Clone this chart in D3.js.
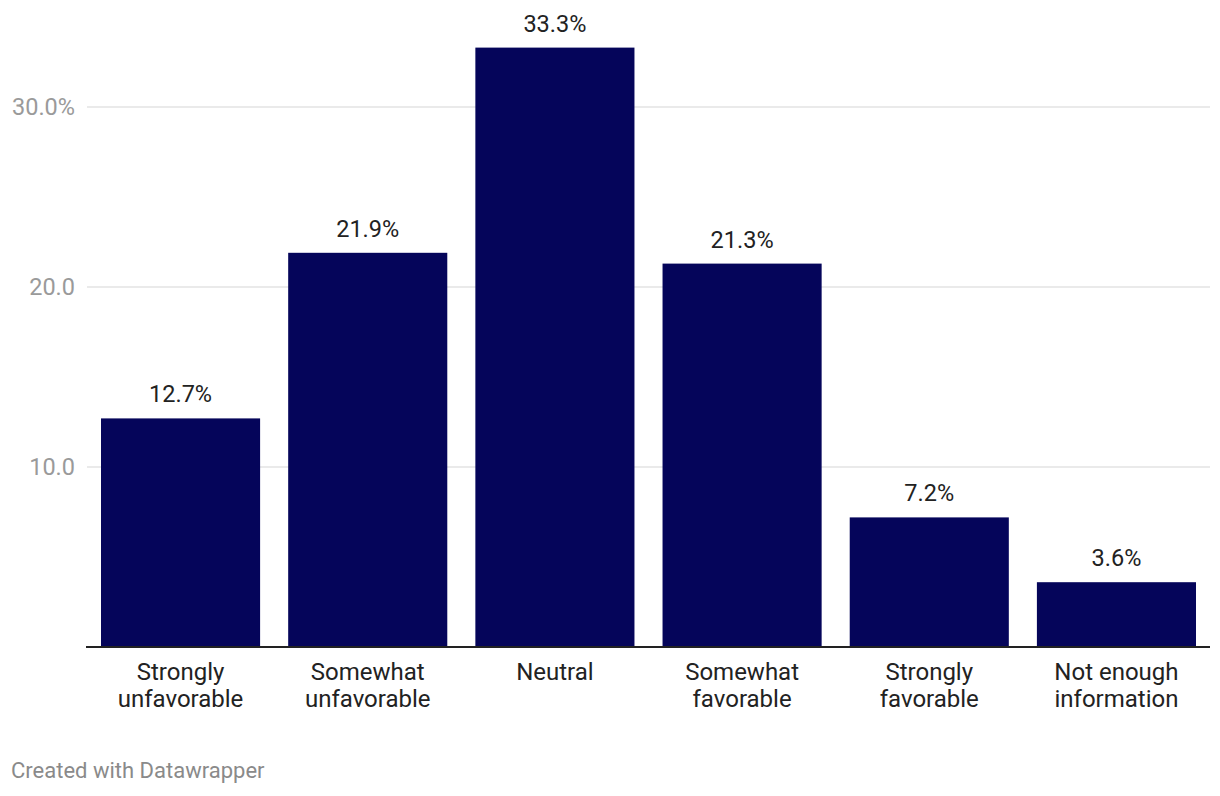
<!DOCTYPE html>
<html><head><meta charset="utf-8">
<script src="https://cdn.jsdelivr.net/npm/d3@7"></script>
<style>
html,body{margin:0;padding:0;background:#fff;}
svg{display:block;font-family:Roboto,sans-serif;}
</style></head>
<body><svg id="c" width="1220" height="796"></svg>
<script>
const categories = [["Strongly","unfavorable"],["Somewhat","unfavorable"],["Neutral"],["Somewhat","favorable"],["Strongly","favorable"],["Not enough","information"]];
const values = [12.7, 21.9, 33.3, 21.3, 7.2, 3.6];
const yTicks = [10, 20, 30];
const yTickLabels = ["10.0", "20.0", "30.0%"];

const svg = d3.select("#c");
const x = d3.scaleBand().domain(d3.range(values.length)).range([101, 1196]).paddingInner(0.15).paddingOuter(0);
const y = d3.scaleLinear().domain([0, 30]).range([647, 107]);

// gridlines
svg.append("g").selectAll("line").data(yTicks).join("line")
  .attr("x1", 87).attr("x2", 1210)
  .attr("y1", d => y(d)).attr("y2", d => y(d))
  .attr("stroke", "#e3e3e3").attr("stroke-width", 1.5);
svg.append("g").selectAll("text").data(yTicks).join("text")
  .attr("x", 75).attr("y", d => y(d)).attr("dy", "0.35em")
  .attr("text-anchor", "end").attr("font-size", 23.5).attr("fill", "#9a9a9a")
  .text((d, i) => yTickLabels[i]);

// bars
svg.append("g").selectAll("rect").data(values).join("rect")
  .attr("x", (d, i) => x(i)).attr("width", x.bandwidth())
  .attr("y", d => y(d)).attr("height", d => y(0) - y(d))
  .attr("fill", "#05055a");

// value labels
svg.append("g").selectAll("text").data(values).join("text")
  .attr("x", (d, i) => x(i) + x.bandwidth() / 2).attr("y", d => y(d) - 16)
  .attr("text-anchor", "middle").attr("font-size", 23.5).attr("fill", "#222")
  .text(d => d.toFixed(1) + "%");

// baseline
svg.append("line").attr("x1", 86).attr("x2", 1210).attr("y1", y(0)).attr("y2", y(0))
  .attr("stroke", "#222").attr("stroke-width", 2);

// category labels
const cl = svg.append("g").selectAll("text").data(categories).join("text")
  .attr("x", (d, i) => x(i) + x.bandwidth() / 2).attr("y", y(0) + 33)
  .attr("text-anchor", "middle").attr("font-size", 24).attr("fill", "#222");
cl.selectAll("tspan").data(d => d).join("tspan")
  .attr("x", function(){ return this.parentNode.getAttribute("x"); })
  .attr("dy", (d, i) => i === 0 ? 0 : 27)
  .text(d => d);

svg.append("text").attr("x", 11).attr("y", 778).attr("font-size", 22).attr("fill", "#8a8a8a")
  .text("Created with Datawrapper");
</script></body></html>
